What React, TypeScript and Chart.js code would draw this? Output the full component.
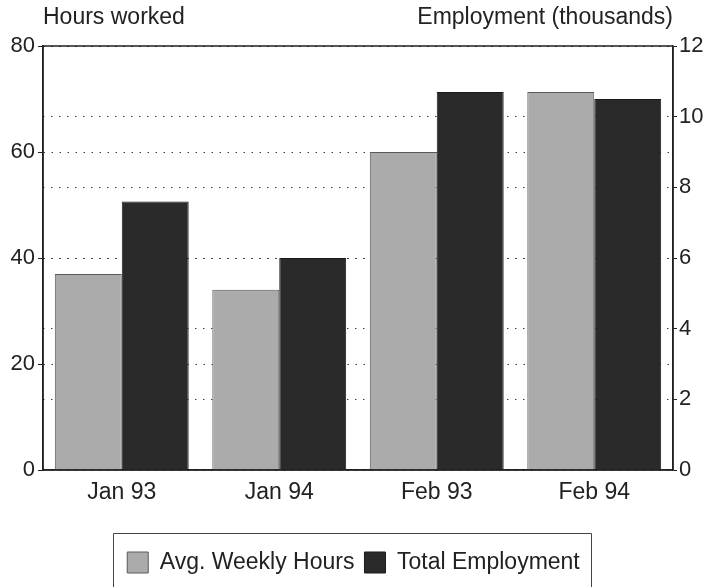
import React, { useEffect, useRef } from "react";
import { Chart, registerables } from "chart.js";
Chart.register(...registerables);

const categories = ["Jan 93", "Jan 94", "Feb 93", "Feb 94"];
const avgWeeklyHours = [37, 34, 60, 71.3];
const totalEmployment = [7.6, 6.0, 10.7, 10.5];
const hoursRange = [0, 80];
const employmentRange = [0, 12];
const leftTitle = "Hours worked";
const rightTitle = "Employment (thousands)";
const seriesNames = ["Avg. Weekly Hours", "Total Employment"];

const FONT = "'Liberation Sans', Arial, Helvetica, sans-serif";
const INK = "#222222";

export default function App() {
  const ref = useRef<HTMLCanvasElement | null>(null);

  useEffect(() => {
    if (!ref.current) return;

    const legendFit = {
      id: "legendFit",
      beforeInit(chart: any) {
        const orig = chart.legend.fit;
        chart.legend.fit = function fit() {
          orig.bind(chart.legend)();
          this.height = 46;
        };
      },
    };

    const decor = {
      id: "decor",
      afterDatasetsDraw(chart: any) {
        const { ctx, chartArea: a } = chart;
        ctx.save();
        ctx.strokeStyle = INK;
        ctx.lineWidth = 1.5;
        ctx.setLineDash([]);
        ctx.beginPath();
        ctx.moveTo(a.left, a.top);
        ctx.lineTo(a.right, a.top);
        ctx.moveTo(a.left, a.bottom);
        ctx.lineTo(a.right, a.bottom);
        ctx.moveTo(a.left, a.top);
        ctx.lineTo(a.left, a.bottom);
        ctx.moveTo(a.right, a.top);
        ctx.lineTo(a.right, a.bottom);
        ctx.stroke();
        ctx.restore();
      },
      afterDraw(chart: any) {
        const { ctx, chartArea: a } = chart;
        ctx.save();
        ctx.fillStyle = INK;
        ctx.font = `23px ${FONT}`;
        ctx.textBaseline = "middle";
        ctx.textAlign = "left";
        ctx.fillText(leftTitle, a.left, 18);
        ctx.textAlign = "right";
        ctx.fillText(rightTitle, a.right, 18);
        const hb = chart.legend && chart.legend.legendHitBoxes;
        if (hb && hb.length) {
          const first = hb[0];
          const last = hb[hb.length - 1];
          const l = Math.round(first.left - 14) + 0.5;
          const r = Math.round(last.left + last.width + 11) + 0.5;
          const t = Math.round(first.top - 18) + 0.5;
          ctx.strokeStyle = "#444";
          ctx.lineWidth = 1;
          ctx.beginPath();
          ctx.moveTo(l, chart.height + 5);
          ctx.lineTo(l, t);
          ctx.lineTo(r, t);
          ctx.lineTo(r, chart.height + 5);
          ctx.stroke();
        }
        ctx.restore();
      },
    };

    const tickFont = { family: FONT, size: 22 };

    const chart = new Chart(ref.current, {
      type: "bar",
      data: {
        labels: categories,
        datasets: [
          {
            label: seriesNames[0],
            data: avgWeeklyHours,
            yAxisID: "y",
            backgroundColor: "#ababab",
            borderColor: "#5a5a5a",
            borderWidth: 1,
          },
          {
            label: seriesNames[1],
            data: totalEmployment,
            yAxisID: "y1",
            backgroundColor: "#2a2a2a",
            borderColor: "#1a1a1a",
            borderWidth: 1,
          },
        ],
      },
      options: {
        responsive: false,
        animation: false,
        layout: { padding: { top: 46, left: 0, right: 0, bottom: 0 } },
        datasets: {
          bar: { categoryPercentage: 0.85, barPercentage: 1 },
        },
        scales: {
          x: {
            grid: { display: false },
            border: { display: true, color: INK, width: 1.5 },
            ticks: { font: { family: FONT, size: 23 }, color: INK, padding: 1 },
            afterFit(scale: any) {
              scale.height = 71;
            },
          },
          y: {
            position: "left",
            min: hoursRange[0],
            max: hoursRange[1],
            ticks: { stepSize: 20, font: tickFont, color: INK, padding: 3 },
            grid: {
              color: "#444",
              lineWidth: 1,
              tickLength: 5,
              tickColor: INK,
              tickBorderDash: [],
            },
            border: { display: true, color: INK, width: 1.5, dash: [1.5, 6.5] },
            afterFit(scale: any) {
              scale.width = 43;
            },
          },
          y1: {
            position: "right",
            min: employmentRange[0],
            max: employmentRange[1],
            ticks: { stepSize: 2, font: tickFont, color: INK, padding: 2 },
            grid: {
              color: "#444",
              lineWidth: 1,
              tickLength: 4,
              tickColor: INK,
              tickBorderDash: [],
            },
            border: { display: true, color: INK, width: 1.5, dash: [1.5, 6.5] },
            afterFit(scale: any) {
              scale.width = 34;
            },
          },
        },
        plugins: {
          legend: {
            position: "bottom",
            labels: {
              font: { family: FONT, size: 23 },
              color: INK,
              boxWidth: 21,
              boxHeight: 21,
              padding: 10,
            },
          },
          tooltip: { enabled: false },
          title: { display: false },
        },
      },
      plugins: [legendFit, decor],
    });

    return () => chart.destroy();
  }, []);

  return (
    <div style={{ position: "absolute", left: 0, top: 0, width: 707, height: 587, background: "#fff" }}>
      <canvas ref={ref} width={707} height={587} style={{ display: "block" }} />
    </div>
  );
}
